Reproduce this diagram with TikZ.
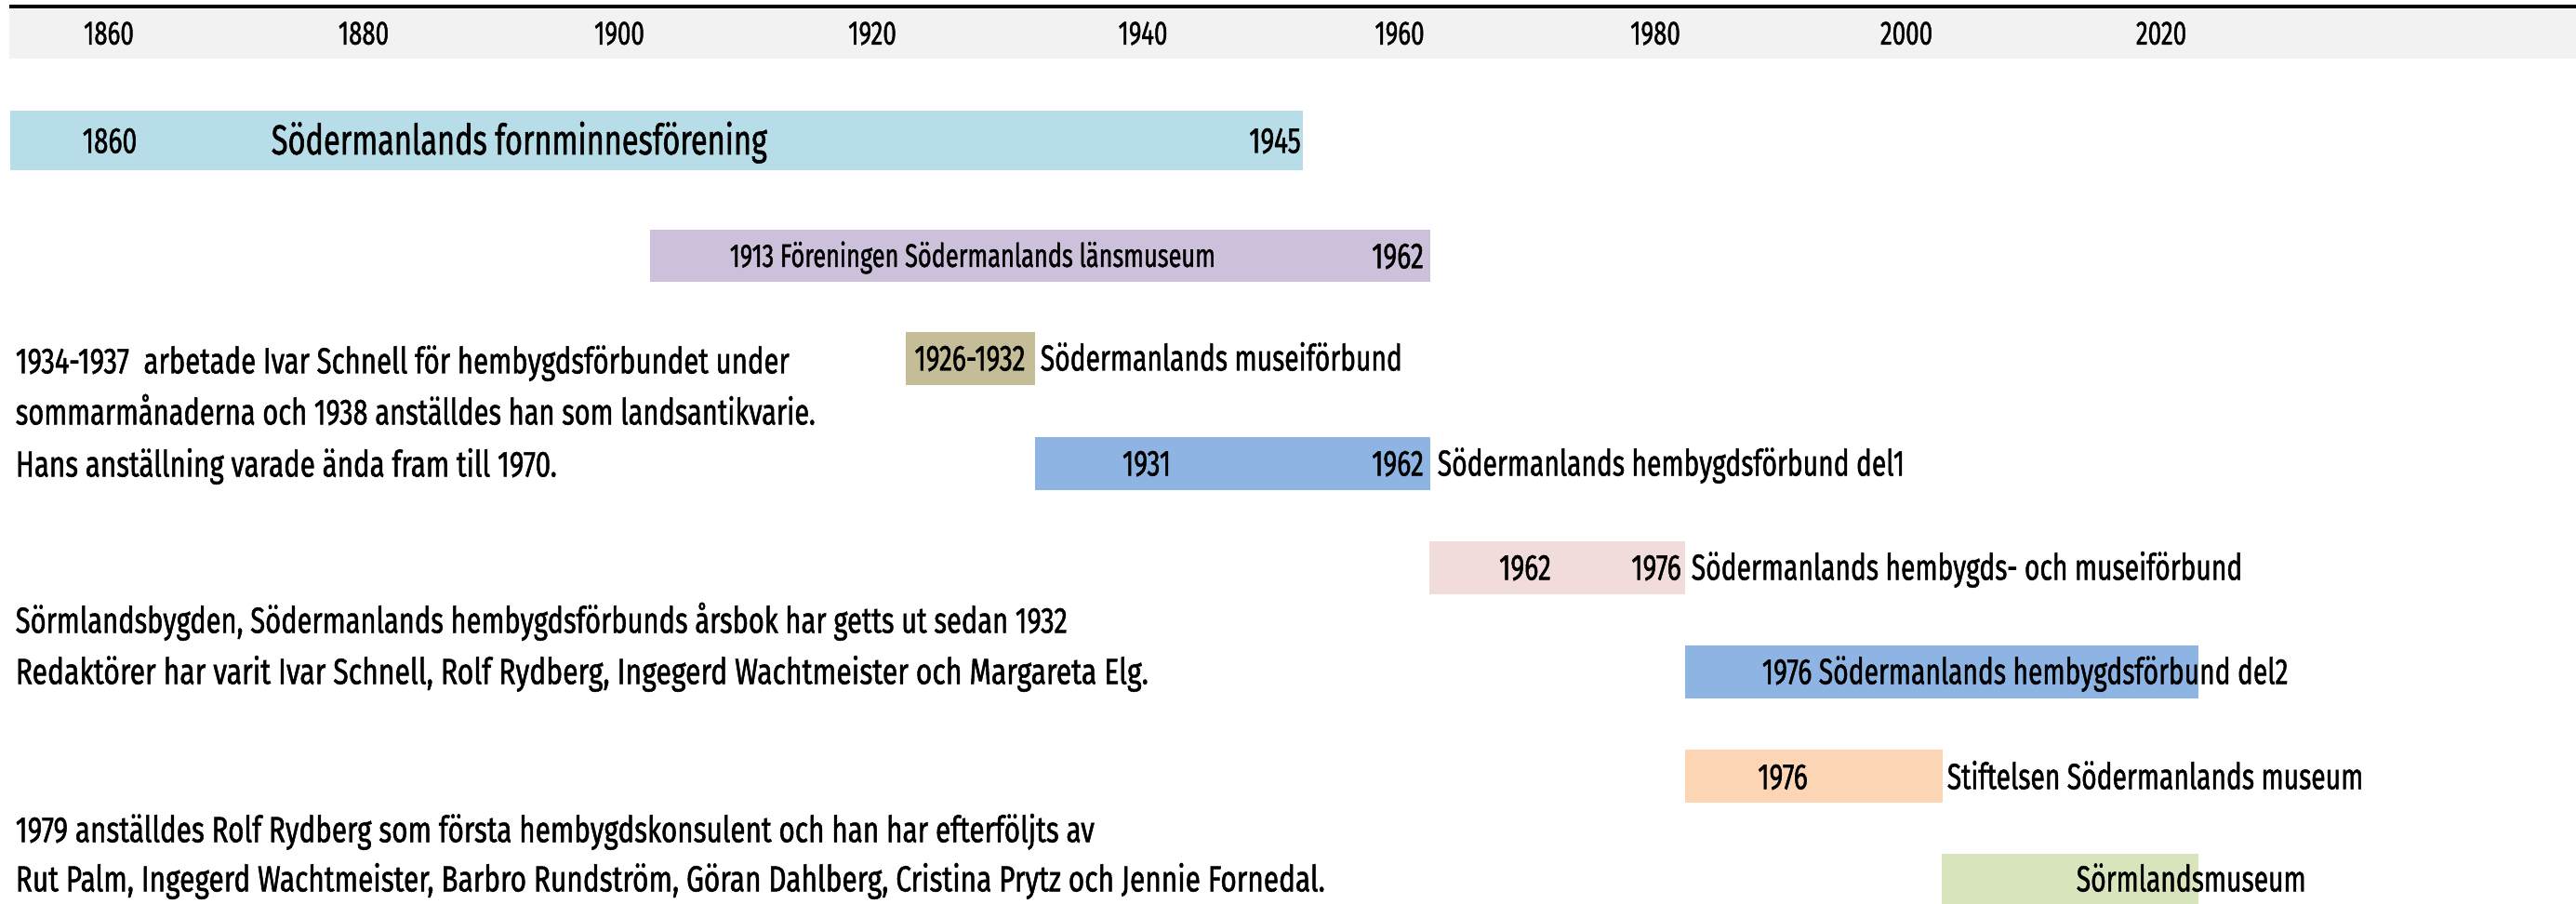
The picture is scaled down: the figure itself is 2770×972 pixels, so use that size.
\documentclass[tikz,border=0pt]{standalone}
\usepackage{fontspec}
\usepackage{graphicx}
\setmainfont{Fira Sans}[FakeStretch=0.72, FakeBold=1.2]
\definecolor{bandgray}{HTML}{F2F2F2}
\definecolor{fornblue}{HTML}{B7DDE8}
\definecolor{lanslila}{HTML}{CCC0DA}
\definecolor{museitan}{HTML}{C4BD97}
\definecolor{hembblue}{HTML}{8DB4E2}
\definecolor{hembpink}{HTML}{F2DCDB}
\definecolor{stiftpeach}{HTML}{FCD5B4}
\definecolor{sormgreen}{HTML}{D8E4BC}
\newlength\unitpx
\setlength\unitpx{0.25pt}
% set a text to a given width in pixels
\newcommand\fitw[2]{\resizebox{#1\unitpx}{\height}{#2}}
\begin{document}
\begin{tikzpicture}[x=0.25pt, y=-0.25pt,
    every node/.style={inner sep=0pt, text height=6.75pt, text depth=0pt, font=\fontsize{9.8}{12}\selectfont},
    lbl/.style={anchor=west},
    yr/.style={font=\fontsize{9}{11}\selectfont, text height=5.9pt},
    big/.style={anchor=west, font=\fontsize{11.3}{13}\selectfont, text height=7.5pt},
    small/.style={anchor=west, font=\fontsize{8.8}{11}\selectfont, text height=6pt}]{
    \useasboundingbox (0,0) rectangle (2770,972);

    % year band
    \fill[bandgray] (10,8) rectangle (2770,63);
    \draw[line width=1pt] (10,7) -- (2770,7);
    \foreach \year/\xpos in {1860/117, 1880/391, 1900/666, 1920/938, 1940/1229, 1960/1505, 1980/1780, 2000/2050, 2020/2324}
        \node [yr] (Y\year) at (\xpos,36) {\year};

    % bars
    \fill[fornblue] (11,119) rectangle (1401,183);
    \fill[lanslila] (699,247) rectangle (1538,303);
    \fill[museitan] (974,357) rectangle (1113,414);
    \fill[hembblue] (1113,470) rectangle (1538,527);
    \fill[hembpink] (1537,582) rectangle (1812,639);
    \fill[hembblue] (1812,694) rectangle (2364,751);
    \fill[stiftpeach] (1812,806) rectangle (2089,863);
    \fill[sormgreen] (2088,918) rectangle (2364,972);

    \node (FornStart) at (118,151) {1860};
    \node [big] (Forn) at (291,151) {Södermanlands fornminnesförening};
    \node (FornEnd) at (1371,151) {1945};

    \node [small] (Lans) at (784,275) {1913 Föreningen Södermanlands länsmuseum};
    \node (LansEnd) at (1503,275) {1962};

    \node (MuseiYears) at (1043,385) {1926-1932};
    \node [lbl] (Musei) at (1118,385) {Södermanlands museiförbund};

    \node (HembStart) at (1233,498) {1931};
    \node (HembEnd) at (1503,498) {1962};
    \node [lbl] (Hemb) at (1545,498) {Södermanlands hembygdsförbund del1};

    \node (HmStart) at (1640,610) {1962};
    \node (HmEnd) at (1781,610) {1976};
    \node [lbl] (HembMusei) at (1818,610) {Södermanlands hembygds- och museiförbund};

    \node [lbl] (HembTwo) at (1894,722) {1976 Södermanlands hembygdsförbund del2};

    \node (StiftStart) at (1917,835) {1976};
    \node [lbl] (Stift) at (2093,835) {Stiftelsen Södermanlands museum};

    \node [lbl] (Sorm) at (2232,945) {Sörmlandsmuseum};

    % notes on the left
    \node [lbl] (Schnell) at (16,388) {\fitw{832}{1934-1937\ \ arbetade Ivar Schnell för hembygdsförbundet under}};
    \node [lbl] (SchnellTwo) at (16,443) {\fitw{860}{sommarmånaderna och 1938 anställdes han som landsantikvarie.}};
    \node [lbl] (SchnellThree) at (16,499) {\fitw{582}{Hans anställning varade ända fram till 1970.}};

    \node [lbl] (Arsbok) at (16,667) {\fitw{1131}{Sörmlandsbygden, Södermanlands hembygdsförbunds årsbok har getts ut sedan 1932}};
    \node [lbl] (Redaktor) at (16,722) {\fitw{1218}{Redaktörer har varit Ivar Schnell, Rolf Rydberg, Ingegerd Wachtmeister och Margareta Elg.}};

    \node [lbl] (Konsulent) at (16,892) {\fitw{1160}{1979 anställdes Rolf Rydberg som första hembygdskonsulent och han har efterföljts av}};
    \node [lbl] (KonsulentTwo) at (16,945) {\fitw{1408}{Rut Palm, Ingegerd Wachtmeister, Barbro Rundström, Göran Dahlberg, Cristina Prytz och Jennie Fornedal.}};
}
\end{tikzpicture}
\end{document}
